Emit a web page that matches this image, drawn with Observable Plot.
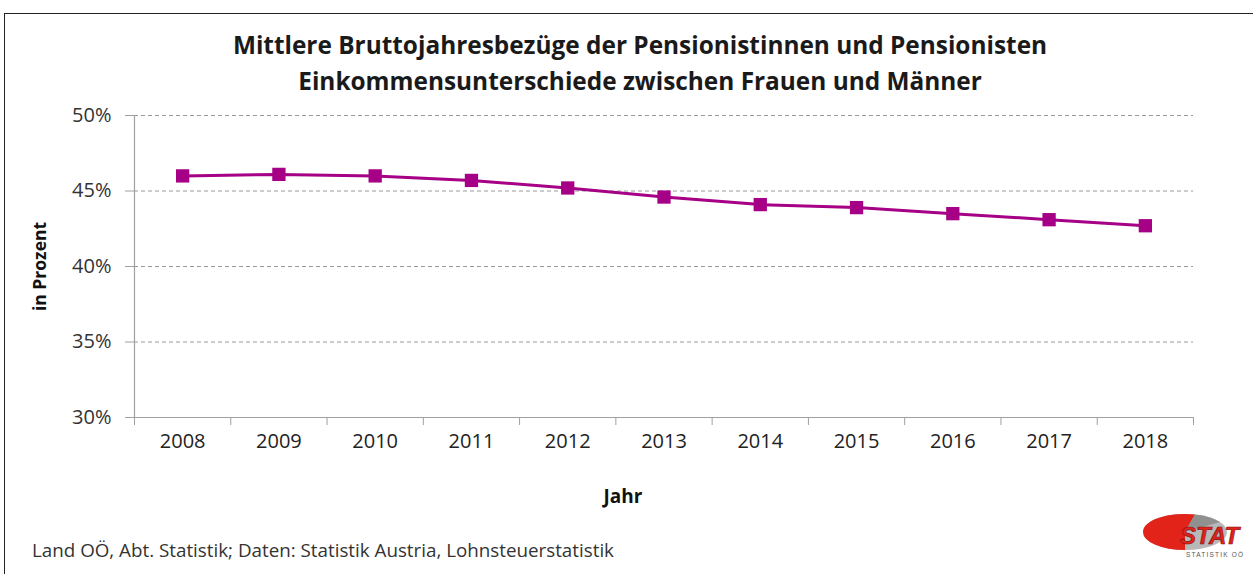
<!DOCTYPE html>
<html><head><meta charset="utf-8">
<script src="https://cdn.jsdelivr.net/npm/d3@7"></script>
<script src="https://cdn.jsdelivr.net/npm/@observablehq/plot@0.6"></script>
<style>
html,body{margin:0;padding:0;background:#fff;overflow:hidden;}
#wrap{position:relative;width:1253px;height:574px;overflow:hidden;font-family:"Open Sans",sans-serif;}
#frame{position:absolute;left:4px;top:13px;width:1300px;height:700px;border:1.5px solid #222;box-sizing:border-box;}
#title{position:absolute;left:0;width:1280px;top:27px;text-align:center;font-weight:bold;font-size:24.4px;line-height:36px;color:#1a1a1a;}
#plot{position:absolute;left:0;top:0;}
#foot{position:absolute;left:32px;top:537px;font-size:18.8px;color:#333;}
#logo{position:absolute;left:1140px;top:510px;}
</style></head>
<body><div id="wrap">
<div id="frame"></div>
<div id="plot"></div>
<div id="title">Mittlere Bruttojahresbezüge der Pensionistinnen und Pensionisten<br>Einkommensunterschiede zwischen Frauen und Männer</div>
<div id="foot">Land OÖ, Abt. Statistik; Daten: Statistik Austria, Lohnsteuerstatistik</div>
<svg id="logo" width="110" height="56" viewBox="0 0 110 56">
  <ellipse cx="45" cy="22" rx="42" ry="18" fill="#b8b8b8"/>
  <path d="M45,22 L55,4.4 A42,18 0 0,0 3,22 A42,18 0 0,0 45,40 Z" fill="#e2231a"/>
  <path d="M45,22 L55,4.4 A42,18 0 0,1 80,12 Z" fill="#909090"/>
  <text x="40" y="34" font-family="Liberation Sans, Arial" font-weight="bold" font-style="italic" font-size="24" fill="#e2231a" stroke="#7a1010" stroke-width="0.6">STAT</text>
  <text x="46" y="47" font-family="Liberation Sans, Arial" font-size="6.5" fill="#555" letter-spacing="1.2">STATISTIK OÖ</text>
</svg>
</div>
<script>
const years = [2008, 2009, 2010, 2011, 2012, 2013, 2014, 2015, 2016, 2017, 2018];
const values = [46.0, 46.1, 46.0, 45.7, 45.2, 44.6, 44.1, 43.9, 43.5, 43.1, 42.7];
const yTicks = [30, 35, 40, 45, 50];
const yLabel = "in Prozent";
const xLabel = "Jahr";

const data = years.map((y, i) => ({year: y, value: values[i]}));
const boundaries = years.map(y => y - 0.5).concat([years[years.length - 1] + 0.5]);
const lineColor = "#A50086";
const font = '"Open Sans", sans-serif';

const chart = Plot.plot({
  width: 1253,
  height: 574,
  marginLeft: 134,
  marginRight: 60,
  marginTop: 115,
  marginBottom: 157,
  style: {fontFamily: font, fontSize: "20px", color: "#333", background: "transparent"},
  x: {type: "linear", domain: [boundaries[0], boundaries[boundaries.length - 1]]},
  y: {domain: [30, 50]},
  marks: [
    Plot.ruleY(yTicks.filter(d => d > 30), {stroke: "#9a9a9a", strokeDasharray: "4,3", strokeWidth: 1}),
    Plot.ruleY([30], {stroke: "#a0a0a0", strokeWidth: 1.2}),
    Plot.ruleX([boundaries[0]], {y1: 30, y2: 50, stroke: "#a0a0a0", strokeWidth: 1.2}),
    Plot.axisY({ticks: yTicks, tickFormat: d => d + "%", tickSize: 9, tickPadding: 14, stroke: "#a0a0a0", fill: "#333", label: null, fontSize: 20}),
    Plot.axisX({ticks: boundaries, tickFormat: () => "", tickSize: 8, stroke: "#a0a0a0", label: null}),
    Plot.axisX({ticks: years, tickFormat: d => String(d), tickSize: 0, tickPadding: 16, fill: "#222", label: null, fontSize: 20}),
    Plot.line(data, {x: "year", y: "value", stroke: lineColor, strokeWidth: 3}),
    Plot.dot(data, {x: "year", y: "value", symbol: "square", fill: lineColor, r: 7.5}),
    Plot.text([yLabel], {frameAnchor: "left", textAnchor: "middle", dx: -94, rotate: -90, fontWeight: "bold", fontSize: 17.5, fill: "#111"}),
    Plot.text([xLabel], {frameAnchor: "bottom", textAnchor: "middle", dx: -41, dy: 85, fontWeight: "bold", fontSize: 19, fill: "#111"})
  ]
});
document.getElementById("plot").appendChild(chart);
</script>
</body></html>
